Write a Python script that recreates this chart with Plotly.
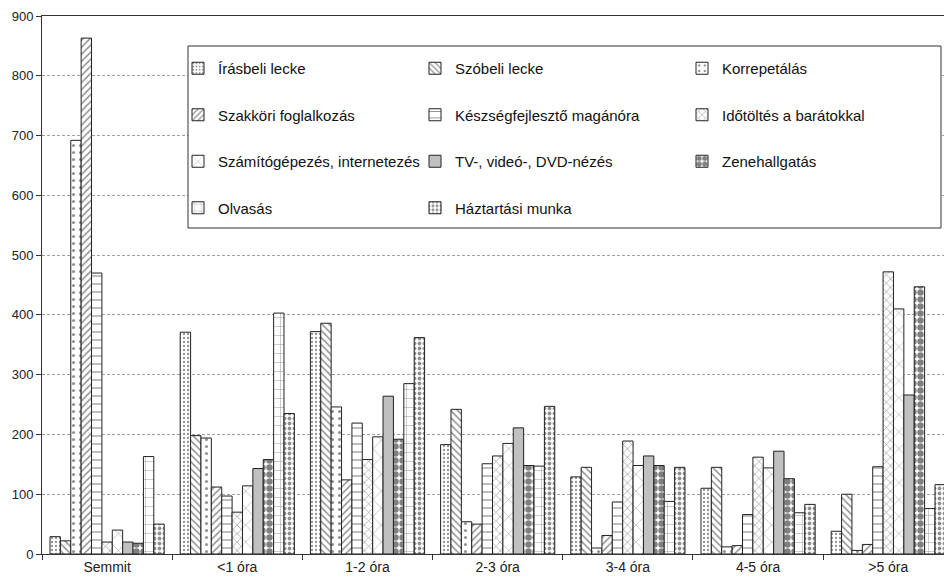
import plotly.graph_objects as go

# Categories: daily time spent
categories = ["Semmit", "<1 óra", "1-2 óra", "2-3 óra", "3-4 óra", "4-5 óra", ">5 óra"]

series_names = [
    "Írásbeli lecke", "Szóbeli lecke", "Korrepetálás",
    "Szakköri foglalkozás", "Készségfejlesztő magánóra", "Időtöltés a barátokkal",
    "Számítógépezés, internetezés", "TV-, videó-, DVD-nézés", "Zenehallgatás",
    "Olvasás", "Háztartási munka",
]

irasbeli = [29, 371, 372, 183, 129, 110, 38]
szobeli = [22, 198, 386, 242, 145, 145, 100]
korrepetalas = [692, 194, 246, 54, 10, 12, 6]
szakkori = [863, 112, 124, 50, 31, 14, 16]
keszsegfejleszto = [470, 97, 219, 151, 87, 66, 146]
idotoltes = [20, 70, 158, 164, 189, 162, 472]
szamitogep = [40, 114, 196, 185, 148, 144, 410]
tv_video = [20, 143, 264, 211, 164, 172, 266]
zene = [18, 158, 192, 148, 148, 126, 447]
olvasas = [163, 403, 285, 147, 88, 69, 76]
haztartasi = [50, 235, 362, 247, 145, 83, 116]

series_values = [irasbeli, szobeli, korrepetalas, szakkori, keszsegfejleszto,
                 idotoltes, szamitogep, tv_video, zene, olvasas, haztartasi]

INK = "#222222"

# Monochrome fill patterns, one per series
fills = [
    dict(color="white", pattern=dict(shape=".", size=4, solidity=0.25, fgcolor=INK, bgcolor="white")),
    dict(color="white", pattern=dict(shape="\\", size=5, solidity=0.3, fgcolor=INK, bgcolor="white")),
    dict(color="white", pattern=dict(shape=".", size=7, solidity=0.15, fgcolor=INK, bgcolor="white")),
    dict(color="white", pattern=dict(shape="/", size=5, solidity=0.3, fgcolor=INK, bgcolor="white")),
    dict(color="white", pattern=dict(shape="-", size=8, solidity=0.15, fgcolor=INK, bgcolor="white")),
    dict(color="white", pattern=dict(shape="x", size=6, solidity=0.2, fgcolor=INK, bgcolor="white")),
    dict(color="white", pattern=dict(shape="x", size=12, solidity=0.08, fgcolor=INK, bgcolor="white")),
    dict(color="#c0c0c0", pattern=dict(shape="")),
    dict(color="white", pattern=dict(shape=".", size=7, solidity=0.65, fgcolor="#000000", bgcolor="white")),
    dict(color="white", pattern=dict(shape="+", size=9, solidity=0.1, fgcolor=INK, bgcolor="white")),
    dict(color="white", pattern=dict(shape=".", size=5, solidity=0.45, fgcolor=INK, bgcolor="white")),
]

legend_ids = ["legend", "legend2", "legend3"]

fig = go.Figure()
for i, (name, vals) in enumerate(zip(series_names, series_values)):
    fig.add_trace(go.Bar(
        name=name,
        x=categories,
        y=vals,
        marker=dict(color=fills[i]["color"], pattern=fills[i]["pattern"],
                    line=dict(color=INK, width=1)),
        legend=legend_ids[i % 3],
        legendgroup=name,
        hoverinfo="x+y+name",
    ))

W, H = 944, 579
ML, MR, MT, MB = 42, 0, 16, 25
PW = W - ML - MR
PH = H - MT - MB


def px_to_paper_x(px):
    return (px - ML) / PW


def px_to_paper_y(py):
    return (H - MB - py) / PH


legend_font = dict(family="Liberation Sans, Arial, sans-serif", size=15,
                   color="#111111", style="normal")
legend_common = dict(
    orientation="v", xanchor="left", yanchor="top",
    bgcolor="rgba(0,0,0,0)", borderwidth=0,
    tracegroupgap=24, font=legend_font, traceorder="grouped",
    y=px_to_paper_y(52),
)

fig.update_layout(
    width=W, height=H, autosize=False,
    margin=dict(l=ML, r=MR, t=MT, b=MB, pad=0),
    paper_bgcolor="white", plot_bgcolor="white",
    barmode="group", bargap=0.123, bargroupgap=0,
    font=dict(family="Liberation Sans, Arial, sans-serif", size=13, color="#222222"),
    xaxis=dict(
        type="category", range=[-0.5, 6.428],
        showline=True, linecolor="#333333", linewidth=1, mirror=True,
        ticks="outside", tickson="boundaries", ticklen=5, tickcolor="#333333",
        showgrid=False, tickfont=dict(size=14),
    ),
    yaxis=dict(
        range=[0, 900], dtick=100,
        showgrid=True, gridcolor="#a0a0a0", griddash="3px,2px", gridwidth=1,
        showline=True, linecolor="#333333", linewidth=1,
        ticks="outside", ticklen=5, tickcolor="#333333",
        zeroline=False, tickfont=dict(size=13),
    ),
    legend=dict(legend_common, x=px_to_paper_x(178)),
    legend2=dict(legend_common, x=px_to_paper_x(415)),
    legend3=dict(legend_common, x=px_to_paper_x(682)),
    shapes=[dict(
        type="rect", xref="paper", yref="paper", layer="above",
        x0=px_to_paper_x(188), x1=px_to_paper_x(941),
        y0=px_to_paper_y(228), y1=px_to_paper_y(46),
        fillcolor="white", line=dict(color="#333333", width=1),
    )],
)

fig.write_html("out.html")
